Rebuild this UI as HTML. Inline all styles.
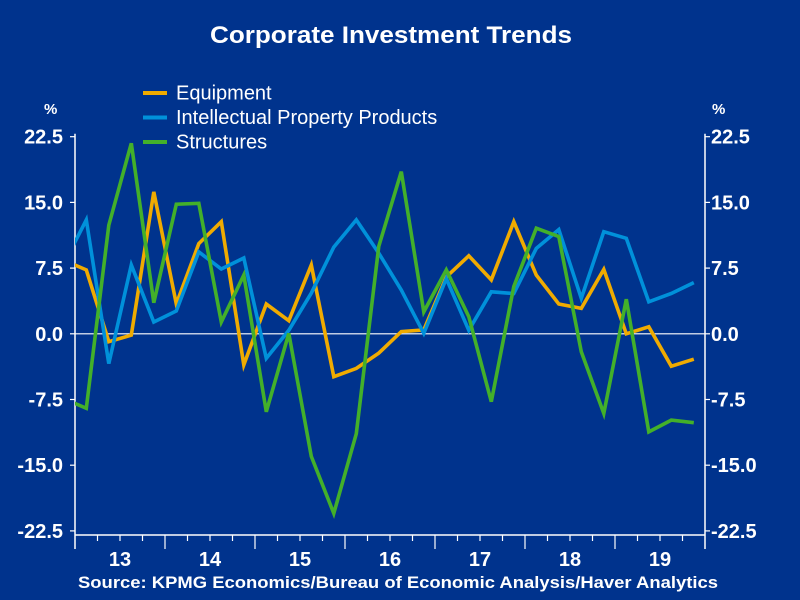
<!DOCTYPE html>
<html><head><meta charset="utf-8"><style>
html,body{margin:0;padding:0;background:#00338D;}
svg{display:block;font-family:"Liberation Sans",Arial,sans-serif;}
</style></head><body>
<svg width="800" height="600" viewBox="0 0 800 600">
<rect width="800" height="600" fill="#00338D"/>
<text x="210" y="43" fill="#fff" font-size="24" font-weight="bold" textLength="362" lengthAdjust="spacingAndGlyphs">Corporate Investment Trends</text>
<defs><clipPath id="pc"><rect x="75" y="100" width="630" height="440"/></clipPath></defs>
<g id="axes"></g>
<g id="series" clip-path="url(#pc)"></g>
<g id="legend"></g>
<text x="78" y="588" fill="#fff" font-size="16.5" font-weight="bold" textLength="640" lengthAdjust="spacingAndGlyphs">Source:  KPMG Economics/Bureau of Economic Analysis/Haver Analytics</text>
</svg>
<script>
const yTicks=[22.5,15,7.5,0,-7.5,-15,-22.5];
const yTickLabels=["22.5","15.0","7.5","0.0","-7.5","-15.0","-22.5"];
const years=["13","14","15","16","17","18","19"];
const equipment=[8.4,7.3,-0.9,-0.15,16.2,3.4,10.3,12.8,-3.55,3.4,1.5,7.85,-4.9,-3.95,-2.2,0.25,0.45,6.5,8.9,6.15,12.8,6.7,3.4,2.9,7.35,0,0.8,-3.7,-2.9];
const ipp=[8.0,13.0,-3.4,7.85,1.35,2.6,9.35,7.4,8.65,-2.8,0.4,4.65,9.9,13.0,9.2,5.0,0.05,6.3,0.4,4.8,4.6,9.75,11.9,4.05,11.65,10.9,3.65,4.6,5.85];
const structures=[-7.4,-8.5,12.4,21.75,3.55,14.8,14.9,1.35,6.7,-8.9,0.05,-14.0,-20.5,-11.4,10,18.5,2.5,7.3,1.95,-7.75,5.4,12.05,11.1,-2.05,-9.1,3.95,-11.2,-9.85,-10.15];
const seriesNames=["Equipment","Intellectual Property Products","Structures"];
const seriesColors=["#F0AB00","#0091DA","#43B02A"];

const NS="http://www.w3.org/2000/svg";
const X0=75,Q=22.5,Y0=333.8,S=8.76;
function xq(i){return X0+Q*(i-0.5);}
function yv(v){return Y0-v*S;}
function mk(t,a,p){const e=document.createElementNS(NS,t);for(const k in a)e.setAttribute(k,a[k]);p.appendChild(e);return e;}
const ax=document.getElementById('axes');
const nQ=years.length*4;
const xR=X0+nQ*Q;
let l=mk('line',{x1:X0,y1:yv(22.5)-3,x2:X0,y2:549,stroke:'#fff','stroke-width':1.5},ax);


l=mk('line',{x1:xR,y1:yv(22.5)-3,x2:xR,y2:549,stroke:'#fff','stroke-width':1.5},ax);


l=mk('line',{x1:X0,y1:535,x2:xR,y2:535,stroke:'#fff','stroke-width':1.5},ax);


l=mk('line',{x1:X0,y1:yv(0),x2:xR,y2:yv(0),stroke:'#fff','stroke-width':1.2},ax);


yTicks.forEach((v,i)=>{
  const y=yv(v);
  let t=mk('line',{x1:X0-5,y1:y,x2:X0,y2:y,stroke:'#fff','stroke-width':1.2},ax);
  
  
  t=mk('line',{x1:xR,y1:y,x2:xR+5,y2:y,stroke:'#fff','stroke-width':1.2},ax);
  
  
  let tx=mk('text',{x:63,y:y+7,fill:'#fff','font-size':20,'font-weight':'bold','text-anchor':'end'},ax);
  tx.textContent=yTickLabels[i];
  
  
  tx=mk('text',{x:711,y:y+7,fill:'#fff','font-size':20,'font-weight':'bold'},ax);
  tx.textContent=yTickLabels[i];
  
  
});
let p=mk('text',{x:44,y:114,fill:'#fff','font-size':15,'font-weight':'bold'},ax);p.textContent='%';


p=mk('text',{x:712,y:114,fill:'#fff','font-size':15,'font-weight':'bold'},ax);p.textContent='%';


for(let k=1;k<nQ;k++){
  const x=X0+k*Q,maj=k%4===0;
  const t=mk('line',{x1:x,y1:535,x2:x,y2:maj?549:541,stroke:'#fff','stroke-width':1.2},ax);
  
  
}
years.forEach((yr,i)=>{
  const t=mk('text',{x:X0+(i*4+2)*Q,y:566,fill:'#fff','font-size':20,'font-weight':'bold','text-anchor':'middle'},ax);
  t.textContent=yr;
  
  
});
const sg=document.getElementById('series');
[equipment,ipp,structures].forEach((d,si)=>{
  const pts=d.map((v,i)=>xq(i).toFixed(1)+','+yv(v).toFixed(1)).join(' ');
  const pl=mk('polyline',{points:pts,fill:'none',stroke:seriesColors[si],'stroke-width':3.6,'stroke-linejoin':'miter'},sg);
  
  
});
const lg=document.getElementById('legend');
seriesNames.forEach((n,i)=>{
  const y=93+i*24.5;
  const g=mk('g',{},lg);
  
  
  mk('line',{x1:143,y1:y,x2:167,y2:y,stroke:seriesColors[i],'stroke-width':4},g);
  const t=mk('text',{x:176,y:y+6.5,fill:'#fff','font-size':20},g);
  t.textContent=n;
});
</script>
</body></html>
